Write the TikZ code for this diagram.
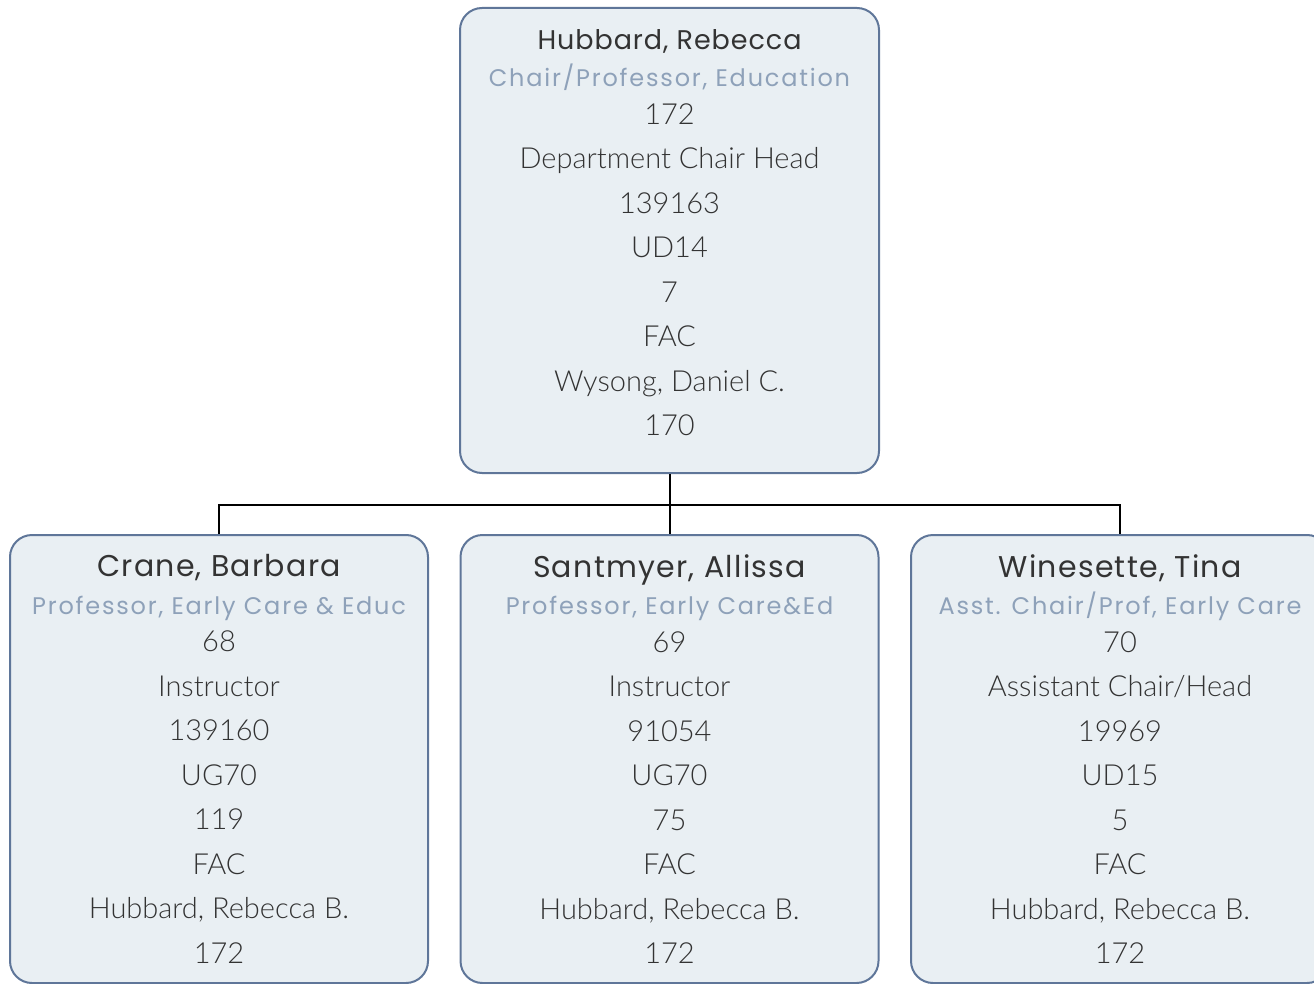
\documentclass[tikz,border=0pt]{standalone}
\usepackage{fontspec}
\usepackage{tikz}
\usetikzlibrary{positioning}
\setmainfont{Lato}[UprightFont=* Light]
\newfontfamily\namefont{Poppins}
\definecolor{cardfill}{HTML}{E9EFF3}
\definecolor{cardline}{HTML}{5F7699}
\definecolor{titlegray}{HTML}{8EA1B9}
\definecolor{textgray}{HTML}{333333}
\newcommand{\card}[4]{{\namefont\addfontfeatures{LetterSpace=#2}\fontsize{#1}{37}\selectfont #3}\\[-7pt]
  {\namefont\addfontfeatures{LetterSpace=7.5}\color{titlegray}\fontsize{24}{37}\selectfont #4}\\[-7pt]}

\begin{document}
\begin{tikzpicture}[x=1pt, y=-1pt, semithick,
    box/.style={draw=cardline, line width=2pt, fill=cardfill, rounded corners=22pt,
      align=center, text=textgray, font=\fontsize{29}{44.5}\selectfont, inner sep=0pt},
    top/.style={box, minimum width=419pt, minimum height=465pt},
    low/.style={box, minimum width=418pt, minimum height=448pt}]
    	\useasboundingbox (0,0) rectangle (1314,984);
    	\clip (0,0) rectangle (1314,984);
    	\node[top] (1) at (669.5,240.5) {\card{27}{3.5}{Hubbard, Rebecca}{Chair/Professor, Education}
    	  172\\Department Chair Head\\139163\\UD14\\7\\FAC\\Wysong, Daniel C.\\170\rule[-16pt]{0pt}{1pt}};
    	\node[low] (2) at (219,759) {\card{30}{4.3}{Crane, Barbara}{Professor, Early Care \& Educ}
    	  68\\Instructor\\139160\\UG70\\119\\FAC\\Hubbard, Rebecca B.\\172};
    	\node[low] (3) at (669.5,759) {\card{30}{4.3}{Santmyer, Allissa}{Professor, Early Care\&Ed}
    	  69\\Instructor\\91054\\UG70\\75\\FAC\\Hubbard, Rebecca B.\\172};
    	\node[low] (4) at (1120,759) {\card{30}{4.3}{Winesette, Tina}{Asst. Chair/Prof, Early Care}
    	  70\\Assistant Chair/Head\\19969\\UD15\\5\\FAC\\Hubbard, Rebecca B.\\172};
    	\coordinate (bus) at (669.5,505);
    	\draw[line width=2pt] (1) -- (bus) -| (2);
    	\draw[line width=2pt] (bus) -| (4);
    	\draw[line width=2pt] (bus) -- (3);
    \end{tikzpicture}
\end{document}
